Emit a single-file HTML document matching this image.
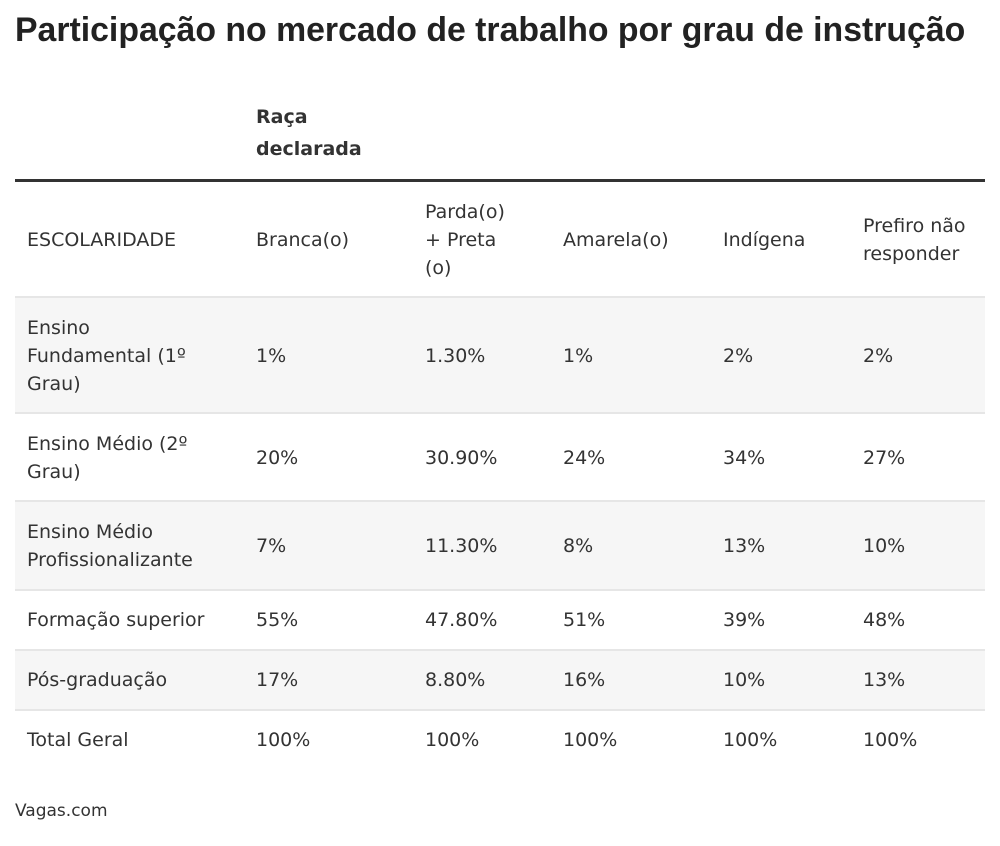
<!DOCTYPE html>
<html><head><meta charset="utf-8"><style>
body{margin:0;width:1000px;height:846px;background:#fff;position:relative;font-family:"DejaVu Sans","Liberation Sans",sans-serif;color:#333;overflow:hidden}
.t{position:absolute;font-size:19px;line-height:28px;white-space:nowrap}
.bg{position:absolute;left:15px;width:970px;background:#f6f6f6}
.ln{position:absolute;left:15px;width:970px;height:2px;background:#e6e6e6}
h1{position:absolute;left:15px;top:11px;margin:0;font-family:"Liberation Sans",sans-serif;font-size:33.8px;font-weight:bold;color:#222;white-space:nowrap}
</style></head><body>
<h1>Participação no mercado de trabalho por grau de instrução</h1>
<div class="t" style="left:256px;top:103px;font-weight:bold;font-size:19px">Raça</div>
<div class="t" style="left:256px;top:135px;font-weight:bold;font-size:19px">declarada</div>
<div style="position:absolute;left:15px;top:179px;width:970px;height:3px;background:#333"></div>

<div class="bg" style="top:297px;height:116px"></div>
<div class="bg" style="top:501px;height:89px"></div>
<div class="bg" style="top:650px;height:60px"></div>
<div class="ln" style="top:296px"></div>
<div class="ln" style="top:412px"></div>
<div class="ln" style="top:500px"></div>
<div class="ln" style="top:589px"></div>
<div class="ln" style="top:649px"></div>
<div class="ln" style="top:709px"></div>

<div class="t" style="left:27px;top:226px">ESCOLARIDADE</div>
<div class="t" style="left:256px;top:226px">Branca(o)</div>
<div class="t" style="left:425px;top:198px">Parda(o)</div>
<div class="t" style="left:425px;top:226px">+ Preta</div>
<div class="t" style="left:425px;top:254px">(o)</div>
<div class="t" style="left:563px;top:226px">Amarela(o)</div>
<div class="t" style="left:723px;top:226px">Indígena</div>
<div class="t" style="left:863px;top:212px">Prefiro não</div>
<div class="t" style="left:863px;top:240px">responder</div>

<div class="t" style="left:27px;top:314px">Ensino</div>
<div class="t" style="left:27px;top:342px">Fundamental (1º</div>
<div class="t" style="left:27px;top:370px">Grau)</div>
<div class="t" style="left:256px;top:342px">1%</div>
<div class="t" style="left:425px;top:342px">1.30%</div>
<div class="t" style="left:563px;top:342px">1%</div>
<div class="t" style="left:723px;top:342px">2%</div>
<div class="t" style="left:863px;top:342px">2%</div>

<div class="t" style="left:27px;top:430px">Ensino Médio (2º</div>
<div class="t" style="left:27px;top:458px">Grau)</div>
<div class="t" style="left:256px;top:444px">20%</div>
<div class="t" style="left:425px;top:444px">30.90%</div>
<div class="t" style="left:563px;top:444px">24%</div>
<div class="t" style="left:723px;top:444px">34%</div>
<div class="t" style="left:863px;top:444px">27%</div>

<div class="t" style="left:27px;top:518px">Ensino Médio</div>
<div class="t" style="left:27px;top:546px">Profissionalizante</div>
<div class="t" style="left:256px;top:532px">7%</div>
<div class="t" style="left:425px;top:532px">11.30%</div>
<div class="t" style="left:563px;top:532px">8%</div>
<div class="t" style="left:723px;top:532px">13%</div>
<div class="t" style="left:863px;top:532px">10%</div>

<div class="t" style="left:27px;top:606px">Formação superior</div>
<div class="t" style="left:256px;top:606px">55%</div>
<div class="t" style="left:425px;top:606px">47.80%</div>
<div class="t" style="left:563px;top:606px">51%</div>
<div class="t" style="left:723px;top:606px">39%</div>
<div class="t" style="left:863px;top:606px">48%</div>

<div class="t" style="left:27px;top:666px">Pós-graduação</div>
<div class="t" style="left:256px;top:666px">17%</div>
<div class="t" style="left:425px;top:666px">8.80%</div>
<div class="t" style="left:563px;top:666px">16%</div>
<div class="t" style="left:723px;top:666px">10%</div>
<div class="t" style="left:863px;top:666px">13%</div>

<div class="t" style="left:27px;top:726px">Total Geral</div>
<div class="t" style="left:256px;top:726px">100%</div>
<div class="t" style="left:425px;top:726px">100%</div>
<div class="t" style="left:563px;top:726px">100%</div>
<div class="t" style="left:723px;top:726px">100%</div>
<div class="t" style="left:863px;top:726px">100%</div>

<div class="t" style="left:15px;top:797px;font-size:17px">Vagas.com</div>
</body></html>
